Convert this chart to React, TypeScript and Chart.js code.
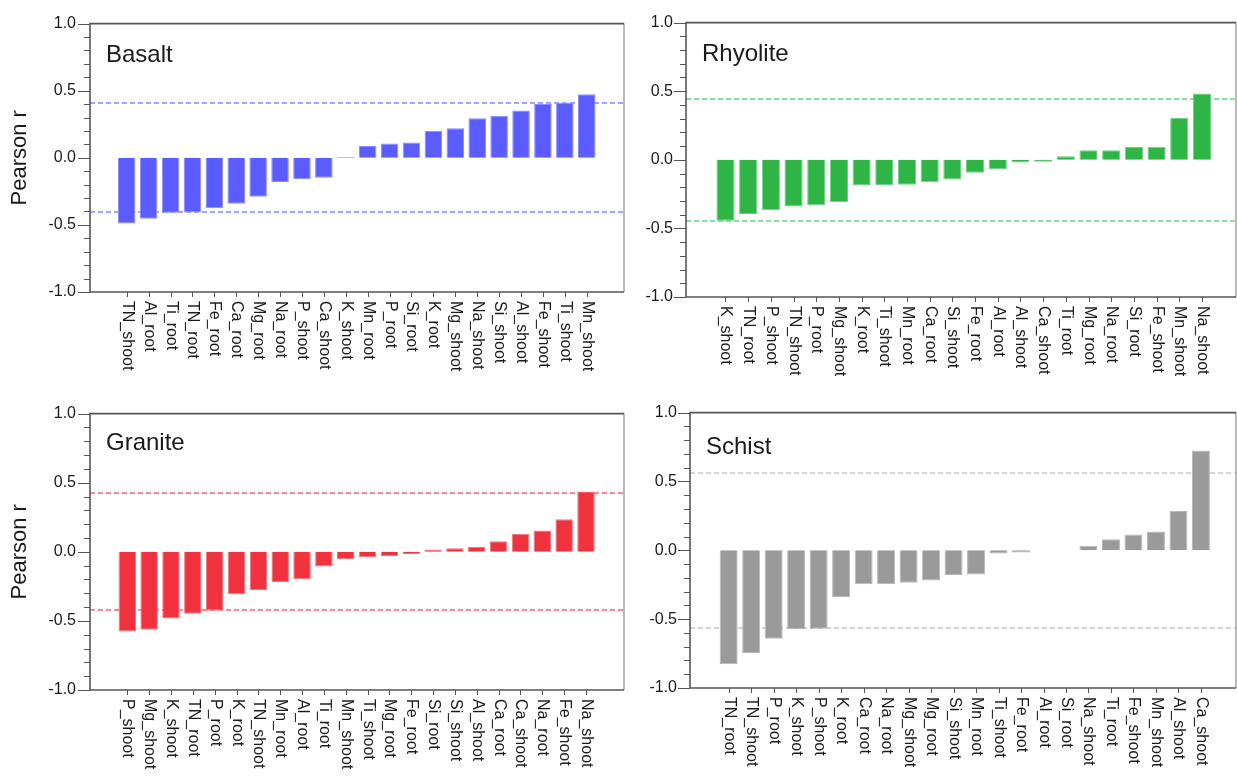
import React, { useEffect, useRef } from 'react';
import { Chart, registerables } from 'chart.js';

Chart.register(...registerables);

const FONT = '"Liberation Sans", Arial, sans-serif';

// ---------- data ----------
const basaltLabels = ['TN_shoot', 'Al_root', 'Ti_root', 'TN_root', 'Fe_root', 'Ca_root', 'Mg_root', 'Na_root', 'P_shoot', 'Ca_shoot', 'K_shoot', 'Mn_root', 'P_root', 'Si_root', 'K_root', 'Mg_shoot', 'Na_shoot', 'Si_shoot', 'Al_shoot', 'Fe_shoot', 'Ti_shoot', 'Mn_shoot'];
const basaltValues = [-0.49, -0.455, -0.41, -0.405, -0.376, -0.343, -0.29, -0.18, -0.16, -0.148, 0.006, 0.088, 0.107, 0.114, 0.202, 0.221, 0.295, 0.314, 0.352, 0.40, 0.41, 0.474];
const basaltThreshold = 0.407;

const rhyoliteLabels = ['K_shoot', 'TN_root', 'P_shoot', 'TN_shoot', 'P_root', 'Mg_shoot', 'K_root', 'Ti_shoot', 'Mn_root', 'Ca_root', 'Si_shoot', 'Fe_root', 'Al_root', 'Al_shoot', 'Ca_shoot', 'Ti_root', 'Mg_root', 'Na_root', 'Si_root', 'Fe_shoot', 'Mn_shoot', 'Na_shoot'];
const rhyoliteValues = [-0.444, -0.395, -0.367, -0.34, -0.33, -0.309, -0.188, -0.184, -0.181, -0.163, -0.144, -0.095, -0.07, -0.019, -0.014, 0.026, 0.07, 0.07, 0.093, 0.095, 0.307, 0.484];
const rhyoliteThreshold = 0.444;

const graniteLabels = ['P_shoot', 'Mg_shoot', 'K_shoot', 'TN_root', 'P_root', 'K_root', 'TN_shoot', 'Mn_root', 'Al_root', 'Ti_root', 'Mn_shoot', 'Ti_shoot', 'Mg_root', 'Fe_root', 'Si_root', 'Si_shoot', 'Al_shoot', 'Ca_root', 'Ca_shoot', 'Na_root', 'Fe_shoot', 'Na_shoot'];
const graniteValues = [-0.576, -0.564, -0.483, -0.448, -0.424, -0.308, -0.277, -0.219, -0.198, -0.107, -0.054, -0.04, -0.03, -0.016, 0.016, 0.026, 0.037, 0.077, 0.13, 0.154, 0.236, 0.436];
const graniteThreshold = 0.423;

const schistLabels = ['TN_root', 'TN_shoot', 'P_root', 'K_shoot', 'P_shoot', 'K_root', 'Ca_root', 'Na_root', 'Mg_shoot', 'Mg_root', 'Si_shoot', 'Mn_root', 'Ti_shoot', 'Fe_root', 'Al_root', 'Si_root', 'Na_shoot', 'Ti_root', 'Fe_shoot', 'Mn_shoot', 'Al_shoot', 'Ca_shoot'];
const schistValues = [-0.828, -0.746, -0.642, -0.574, -0.569, -0.339, -0.247, -0.245, -0.235, -0.219, -0.179, -0.176, -0.024, -0.016, 0, 0, 0.031, 0.08, 0.115, 0.136, 0.285, 0.725];
const schistThreshold = 0.564;

const yTickValues = [-1, -0.5, 0, 0.5, 1];
const yAxisTitle = 'Pearson r';

// ---------- layout / style ----------
type Panel = {
  title: string;
  labels: string[];
  values: number[];
  threshold: number;
  fill: string;
  edge: string;
  dash: string;
  left: number;
  top: number;
  width: number;
  height: number;
  areaLeft: number;
  padTop: number;
  padRight: number;
  padBottom: number;
  xMin: number;
  xMax: number;
  labelPad: number;
  titleDy: number;
  showYTitle: boolean;
};

const panels: Panel[] = [
  {
    title: 'Basalt', labels: basaltLabels, values: basaltValues, threshold: basaltThreshold,
    fill: '#5a5cff', edge: '#8a8cff', dash: '#8486ff',
    left: 0, top: 0, width: 626, height: 390,
    areaLeft: 90, padTop: 12, padRight: 2, padBottom: 98,
    xMin: -1.675, xMax: 22.7, labelPad: 14, titleDy: 38, showYTitle: true,
  },
  {
    title: 'Rhyolite', labels: rhyoliteLabels, values: rhyoliteValues, threshold: rhyoliteThreshold,
    fill: '#2eb546', edge: '#6fd083', dash: '#6ad282',
    left: 620, top: 0, width: 617, height: 390,
    areaLeft: 66, padTop: 10, padRight: 1, padBottom: 93,
    xMin: -1.74, xMax: 22.5, labelPad: 13, titleDy: 38, showYTitle: false,
  },
  {
    title: 'Granite', labels: graniteLabels, values: graniteValues, threshold: graniteThreshold,
    fill: '#ef323d', edge: '#f4747b', dash: '#f06670',
    left: 0, top: 390, width: 626, height: 387,
    areaLeft: 90, padTop: 14, padRight: 2, padBottom: 87,
    xMin: -1.708, xMax: 22.74, labelPad: 14, titleDy: 36, showYTitle: true,
  },
  {
    title: 'Schist', labels: schistLabels, values: schistValues, threshold: schistThreshold,
    fill: '#9a9a9a', edge: '#b8b8b8', dash: '#c4c4c4',
    left: 620, top: 390, width: 617, height: 387,
    areaLeft: 70, padTop: 14, padRight: 1, padBottom: 89,
    xMin: -1.72, xMax: 22.56, labelPad: 13, titleDy: 41, showYTitle: false,
  },
];

function makeDecor(p: Panel) {
  return {
    id: 'decor',
    beforeDatasetsDraw(chart: any) {
      const { ctx, chartArea: a } = chart;
      const y = chart.scales.y;
      ctx.save();
      ctx.strokeStyle = p.dash;
      ctx.lineWidth = 1.5;
      ctx.setLineDash([5, 3]);
      for (const v of [p.threshold, -p.threshold]) {
        const py = Math.round(y.getPixelForValue(v));
        ctx.beginPath();
        ctx.moveTo(a.left, py);
        ctx.lineTo(a.right, py);
        ctx.stroke();
      }
      ctx.restore();
    },
    afterDraw(chart: any) {
      const { ctx, chartArea: a } = chart;
      const x = chart.scales.x;
      const y = chart.scales.y;
      ctx.save();
      // frame
      ctx.lineWidth = 1.6;
      ctx.strokeStyle = '#aaaaaa';
      ctx.beginPath();
      ctx.moveTo(a.right, a.top);
      ctx.lineTo(a.right, a.bottom);
      ctx.stroke();
      ctx.strokeStyle = '#555555';
      ctx.beginPath();
      ctx.moveTo(a.right, a.top);
      ctx.lineTo(a.left, a.top);
      ctx.lineTo(a.left, a.bottom);
      ctx.lineTo(a.right, a.bottom);
      ctx.stroke();
      // y ticks (major + minor)
      ctx.lineWidth = 1;
      ctx.strokeStyle = '#555555';
      for (let k = -10; k <= 10; k++) {
        const py = Math.round(y.getPixelForValue(k / 10)) + 0.5;
        const len = k % 5 === 0 ? 12 : 6;
        ctx.beginPath();
        ctx.moveTo(a.left - len, py);
        ctx.lineTo(a.left, py);
        ctx.stroke();
      }
      // x ticks + rotated labels
      ctx.fillStyle = '#1a1a1a';
      ctx.font = `16px ${FONT}`;
      p.labels.forEach((lab, i) => {
        const px = Math.round(x.getPixelForValue(i)) + 0.5;
        ctx.beginPath();
        ctx.moveTo(px, a.bottom);
        ctx.lineTo(px, a.bottom + 5);
        ctx.stroke();
        ctx.save();
        ctx.translate(px, a.bottom + 9);
        ctx.rotate(Math.PI / 2);
        ctx.textAlign = 'left';
        ctx.textBaseline = 'middle';
        ctx.fillText(lab, 0, 0);
        ctx.restore();
      });
      // panel title
      ctx.font = `24px ${FONT}`;
      ctx.textAlign = 'left';
      ctx.textBaseline = 'alphabetic';
      ctx.fillText(p.title, a.left + 16, a.top + p.titleDy);
      // y axis title
      if (p.showYTitle) {
        ctx.save();
        ctx.translate(20, (a.top + a.bottom) / 2);
        ctx.rotate(-Math.PI / 2);
        ctx.font = `22px ${FONT}`;
        ctx.textAlign = 'center';
        ctx.textBaseline = 'middle';
        ctx.fillText(yAxisTitle, 0, 0);
        ctx.restore();
      }
      ctx.restore();
    },
  };
}

function PanelChart({ p }: { p: Panel }) {
  const ref = useRef<HTMLCanvasElement | null>(null);
  useEffect(() => {
    if (!ref.current) return;
    const chart = new Chart(ref.current, {
      type: 'bar',
      data: {
        datasets: [
          {
            data: p.values.map((v, i) => ({ x: i, y: v })),
            backgroundColor: p.fill,
            borderColor: p.edge,
            borderWidth: 1,
            barPercentage: 0.8,
            categoryPercentage: 1.0,
          },
        ],
      },
      options: {
        animation: false,
        responsive: false,
        maintainAspectRatio: false,
        layout: { padding: { top: p.padTop, right: p.padRight, bottom: p.padBottom, left: 0 } },
        plugins: { legend: { display: false }, tooltip: { enabled: false }, title: { display: false } },
        scales: {
          x: { type: 'linear', min: p.xMin, max: p.xMax, offset: false, display: false },
          y: {
            min: -1,
            max: 1,
            afterFit: (s: any) => { s.width = p.areaLeft; },
            afterBuildTicks: (s: any) => { s.ticks = yTickValues.map((v) => ({ value: v })); },
            grid: { display: false, drawTicks: false },
            border: { display: false },
            ticks: {
              padding: p.labelPad,
              color: '#1a1a1a',
              font: { family: FONT, size: 16 },
              callback: (v: any) => Number(v).toFixed(1),
            },
          },
        },
      },
      plugins: [makeDecor(p)],
    } as any);
    return () => chart.destroy();
  }, [p]);
  return (
    <canvas
      ref={ref}
      width={p.width}
      height={p.height}
      style={{ position: 'absolute', left: p.left, top: p.top, width: p.width, height: p.height }}
    />
  );
}

export default function App() {
  return (
    <div style={{ position: 'absolute', left: 0, top: 0, width: 1237, height: 777, background: '#ffffff', overflow: 'hidden' }}>
      {panels.map((p) => (
        <PanelChart key={p.title} p={p} />
      ))}
    </div>
  );
}
